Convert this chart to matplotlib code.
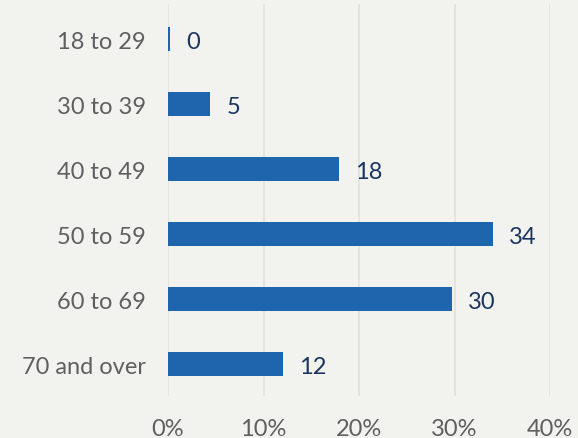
import matplotlib
matplotlib.use("Agg")
import matplotlib.pyplot as plt
from matplotlib.ticker import FuncFormatter

categories = ["18 to 29", "30 to 39", "40 to 49", "50 to 59", "60 to 69", "70 and over"]
values = [0.2, 4.4, 17.9, 34.0, 29.7, 12.0]
value_labels = ["0", "5", "18", "34", "30", "12"]
x_ticks = [0, 10, 20, 30, 40]

plt.rcParams['font.family'] = ['Lato', 'DejaVu Sans']
bg = "#f2f2ee"
fig = plt.figure(figsize=(5.78, 4.39), dpi=100, facecolor=bg)
ax = fig.add_axes([168/578, 1 - 397/439, (550-168)/578, 392/439], facecolor=bg)

y = list(range(len(categories)))
ax.barh(y, values, height=0.36, color="#1f65ad", zorder=3)
for yi, v, lab in zip(y, values, value_labels):
    ax.text(v + 1.7, yi + 0.04, lab, va="center", ha="left", fontsize=17, color="#1b3560")

ax.set_xlim(0, 40)
ax.set_ylim(5.49, -0.54)
ax.set_yticks(y)
ax.set_yticklabels(categories, fontsize=17, color="#5f5f5f")
ax.set_xticks(x_ticks)
ax.xaxis.set_major_formatter(FuncFormatter(lambda v, p: f"{v:.0f}%"))
ax.tick_params(axis="x", labelsize=17, labelcolor="#5f5f5f", length=0, pad=16)
ax.tick_params(axis="y", length=0, pad=16)
for s in ax.spines.values():
    s.set_visible(False)
ax.grid(axis="x", color="#e2e2de", linewidth=1.3, zorder=0)
ax.set_axisbelow(True)

fig.savefig("out.png", dpi=100, facecolor=bg)
